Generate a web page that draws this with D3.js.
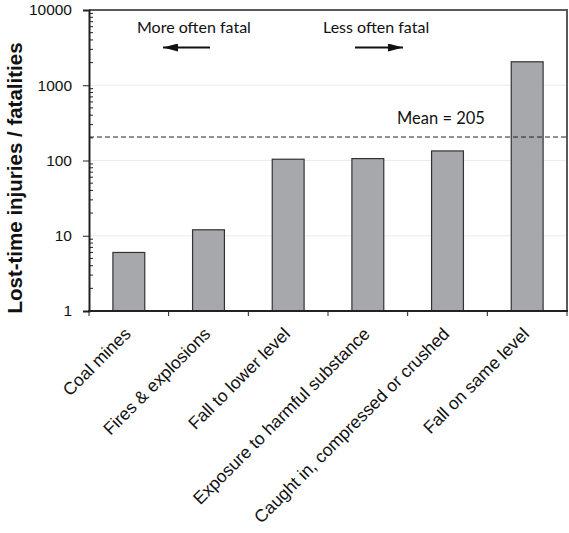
<!DOCTYPE html>
<html>
<head>
<meta charset="utf-8">
<script src="https://cdn.jsdelivr.net/npm/d3@7"></script>
<style>
  html, body { margin: 0; padding: 0; background: #fff; }
  svg { display: block; }
</style>
</head>
<body>
<svg id="chart" width="569" height="533"></svg>
<script>
// Lost-time injuries per fatality, by accident type
const categories = [
  "Coal mines",
  "Fires & explosions",
  "Fall to lower level",
  "Exposure to harmful substance",
  "Caught in, compressed or crushed",
  "Fall on same level"
];
const ratios = [6, 12, 104, 106, 134, 2050];
const meanRatio = 205;
const yTickValues = [1, 10, 100, 1000, 10000];
const yTickLabels = ["1", "10", "100", "1000", "10000"];
const yTitle = "Lost-time injuries / fatalities";
const meanLabel = "Mean = 205";
const leftNote = "More often fatal";
const rightNote = "Less often fatal";

const svg = d3.select("#chart");
const margin = { left: 89, right: 2, top: 10, bottom: 222 };
const W = 569, H = 533;
const x0 = margin.left, x1 = W - margin.right;
const y0 = H - margin.bottom, y1 = margin.top;

const x = d3.scaleBand().domain(categories).range([x0, x1]).paddingInner(0.6).paddingOuter(0.3);
const y = d3.scaleLog().domain([1, 10000]).range([y0, y1]);

const labelFont = "'Liberation Sans', Arial, sans-serif";
const noteFont = "Lato, 'Open Sans', sans-serif";

// light gridlines at each decade
svg.append("g").selectAll("line")
  .data(yTickValues.slice(1, -1))
  .join("line")
  .attr("x1", x0).attr("x2", x1)
  .attr("y1", d => y(d)).attr("y2", d => y(d))
  .attr("stroke", "#ececec").attr("stroke-width", 1);

// frame: top and right edges
svg.append("path")
  .attr("d", `M${x0},${y1}H${x1}V${y0}`)
  .attr("fill", "none").attr("stroke", "#5a5a5a").attr("stroke-width", 2);

// bars
svg.append("g").selectAll("rect")
  .data(ratios)
  .join("rect")
  .attr("x", (d, i) => x(categories[i]))
  .attr("width", x.bandwidth())
  .attr("y", d => y(d))
  .attr("height", d => y0 - y(d))
  .attr("fill", "#a7a8ab")
  .attr("stroke", "#333").attr("stroke-width", 1.2);

// mean line
svg.append("line")
  .attr("x1", x0).attr("x2", x1)
  .attr("y1", y(meanRatio)).attr("y2", y(meanRatio))
  .attr("stroke", "#222").attr("stroke-width", 1)
  .attr("stroke-dasharray", "5,3");

svg.append("text")
  .attr("x", 397).attr("y", y(meanRatio) - 13)
  .attr("font-family", noteFont).attr("font-size", 16.5)
  .attr("fill", "#111")
  .text(meanLabel);

// y axis: labelled decades with outward ticks
const yAxis = d3.axisLeft(y)
  .tickValues(yTickValues)
  .tickFormat((d, i) => yTickLabels[i])
  .tickSize(6).tickPadding(11);
const gy = svg.append("g").attr("transform", `translate(${x0},0)`).call(yAxis);
gy.select(".domain").attr("stroke", "#222").attr("stroke-width", 2);
gy.selectAll(".tick line").attr("stroke", "#222").attr("stroke-width", 1);
gy.selectAll(".tick text")
  .attr("font-family", labelFont).attr("font-size", 15.5).attr("fill", "#111");

// minor ticks inside the plot
const minors = [];
for (let dec = 1; dec < 10000; dec *= 10) {
  for (let k = 2; k <= 9; k++) minors.push(dec * k);
}
svg.append("g").selectAll("line")
  .data(minors)
  .join("line")
  .attr("x1", x0).attr("x2", x0 + 4)
  .attr("y1", d => y(d)).attr("y2", d => y(d))
  .attr("stroke", "#222").attr("stroke-width", 1);

// x axis with ticks at category boundaries
const step = x.step();
const boundaries = d3.range(categories.length + 1).map(i => x0 + i * step);
svg.append("line")
  .attr("x1", x0 - 1).attr("x2", x1 + 1)
  .attr("y1", y0).attr("y2", y0)
  .attr("stroke", "#222").attr("stroke-width", 2);
svg.append("g").selectAll("line")
  .data(boundaries)
  .join("line")
  .attr("x1", d => d).attr("x2", d => d)
  .attr("y1", y0).attr("y2", y0 + 5)
  .attr("stroke", "#222").attr("stroke-width", 1);

// rotated category labels
svg.append("g").selectAll("text")
  .data(categories)
  .join("text")
  .attr("transform", d => `translate(${x(d) + x.bandwidth() / 2 + 3},${y0 + 24}) rotate(-45)`)
  .attr("text-anchor", "end")
  .attr("font-family", labelFont).attr("font-size", 17.5)
  .attr("fill", "#111")
  .text(d => d);

// y axis title
svg.append("text")
  .attr("transform", `translate(22,178) rotate(-90)`)
  .attr("text-anchor", "middle")
  .attr("font-family", labelFont).attr("font-size", 20.5).attr("font-weight", "bold")
  .attr("fill", "#111")
  .text(yTitle);

// direction notes with arrows
svg.append("text")
  .attr("x", 137).attr("y", 33)
  .attr("font-family", noteFont).attr("font-size", 16).attr("fill", "#111")
  .text(leftNote);
svg.append("text")
  .attr("x", 323).attr("y", 33)
  .attr("font-family", noteFont).attr("font-size", 16).attr("fill", "#111")
  .text(rightNote);

const defs = svg.append("defs");
defs.append("marker")
  .attr("id", "head").attr("viewBox", "0 0 15 8")
  .attr("refX", 15).attr("refY", 4)
  .attr("markerWidth", 15).attr("markerHeight", 8)
  .attr("markerUnits", "userSpaceOnUse")
  .attr("orient", "auto")
  .append("path").attr("d", "M0,0L15,4L0,8Z").attr("fill", "#111");

svg.append("line")
  .attr("x1", 210).attr("x2", 163).attr("y1", 47.5).attr("y2", 47.5)
  .attr("stroke", "#111").attr("stroke-width", 2).attr("marker-end", "url(#head)");
svg.append("line")
  .attr("x1", 355).attr("x2", 403).attr("y1", 47.5).attr("y2", 47.5)
  .attr("stroke", "#111").attr("stroke-width", 2).attr("marker-end", "url(#head)");
</script>
</body>
</html>
